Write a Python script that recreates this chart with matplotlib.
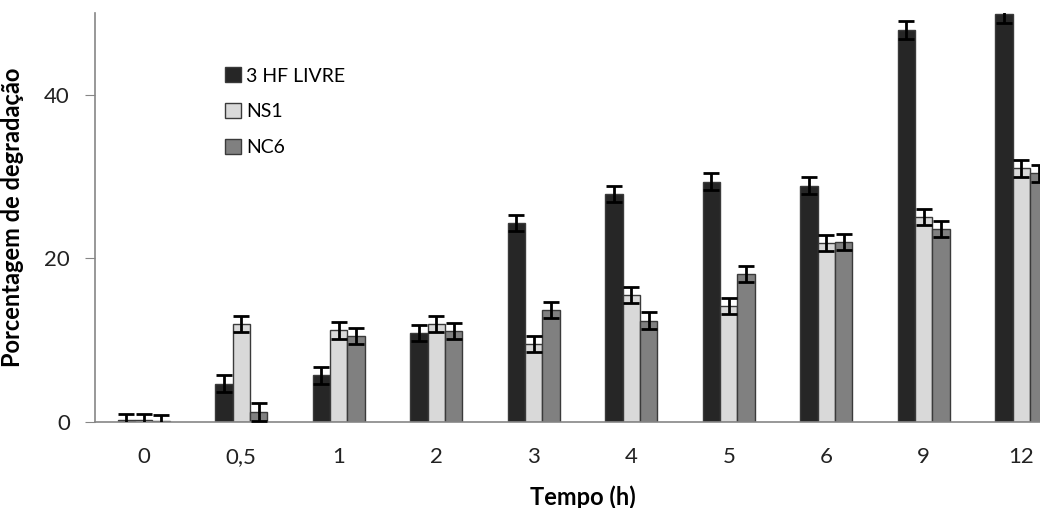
import numpy as np
import matplotlib
matplotlib.use("Agg")
import matplotlib.pyplot as plt

plt.rcParams["font.family"] = ["Lato", "DejaVu Sans"]

# data
tempos = ["0", "0,5", "1", "2", "3", "4", "5", "6", "9", "12"]
hf_livre = [0.2, 4.7, 5.7, 10.9, 24.3, 27.9, 29.4, 28.9, 47.9, 49.9]
hf_livre_err = [0.8, 1.0, 1.0, 1.0, 1.0, 1.0, 1.0, 1.0, 1.1, 1.1]
ns1 = [0.2, 12.0, 11.2, 12.0, 9.5, 15.5, 14.2, 21.9, 25.1, 31.0]
ns1_err = [0.8, 1.0, 1.0, 1.0, 1.0, 1.0, 1.0, 1.0, 1.0, 1.0]
nc6 = [0.1, 1.2, 10.5, 11.1, 13.7, 12.4, 18.1, 22.0, 23.6, 30.4]
nc6_err = [0.8, 1.1, 1.0, 1.0, 1.0, 1.0, 1.0, 1.0, 1.0, 1.0]

series = [
    ("3 HF LIVRE", hf_livre, hf_livre_err, "#262626"),
    ("NS1", ns1, ns1_err, "#d9d9d9"),
    ("NC6", nc6, nc6_err, "#808080"),
]

fig = plt.figure(figsize=(10.4, 5.08), dpi=100)
# axes runs past the right edge, like the cropped original
ax = fig.add_axes([95 / 1040, 86 / 508, 975 / 1040, 409 / 508])

x = np.arange(len(tempos))
w = 0.177
for i, (name, vals, errs, col) in enumerate(series):
    ax.bar(x + (i - 1) * w, vals, w, color=col, edgecolor="#3a3a3a",
           linewidth=1.0, label=name, zorder=2)
    ax.errorbar(x + (i - 1) * w, vals, yerr=errs, fmt="none", ecolor="black",
                elinewidth=2, capsize=6, capthick=2, zorder=3)

ax.set_xlim(-0.5, len(tempos) - 0.5)
ax.set_ylim(0, 50)
ax.set_yticks([0, 20, 40])
ax.set_xticks(x)
ax.set_xticklabels(tempos)
ax.tick_params(axis="y", direction="out", length=7, color="#868686",
               labelsize=16, pad=11, labelcolor="#222222")
ax.tick_params(axis="x", length=0, labelsize=16, pad=18, labelcolor="#222222")

for s in ["top", "right"]:
    ax.spines[s].set_visible(False)
for s in ["left", "bottom"]:
    ax.spines[s].set_color("#868686")
    ax.spines[s].set_linewidth(1.2)

ax.set_xlabel("Tempo (h)", fontsize=17, fontweight="bold")
ax.set_ylabel("Porcentagem de degradação", fontsize=17, fontweight="bold")
ax.xaxis.set_label_coords(0.5, -0.155)
ax.yaxis.set_label_coords(-0.073, 0.5)

ax.legend(loc="upper left", bbox_to_anchor=(0.115, 0.91), frameon=False,
          fontsize=14, handlelength=0.82, handleheight=0.82,
          handletextpad=0.3, labelspacing=0.95)

fig.savefig("out.png", dpi=100)
